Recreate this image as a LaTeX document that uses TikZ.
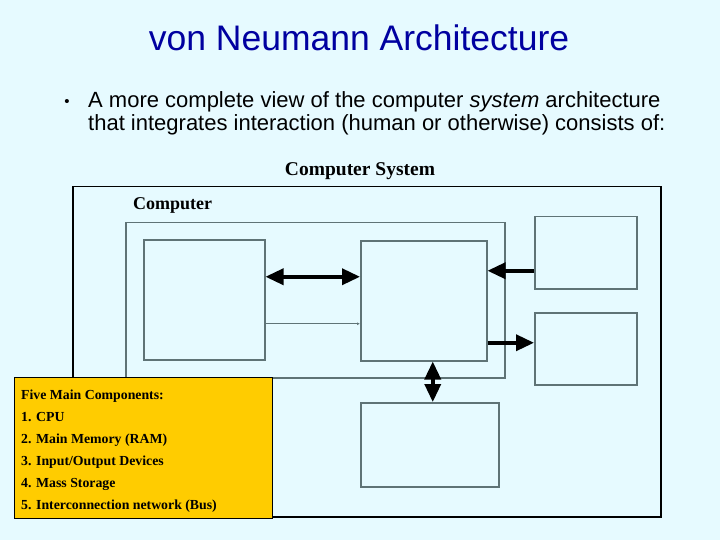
\documentclass[tikz,border=0pt]{standalone}
\usepackage{fontspec}
\setmainfont{Liberation Serif}
\setsansfont{Liberation Sans}
\usetikzlibrary{arrows.meta,positioning}

\definecolor{slidebg}{RGB}{230,250,255}
\definecolor{titleblue}{RGB}{0,0,160}
\definecolor{boxgray}{RGB}{95,115,118}
\definecolor{notegold}{RGB}{255,204,0}

\tikzset{
  unit/.style={draw=boxgray, line width=1.5pt, inner sep=0pt, anchor=north west},
  frame/.style={draw=black, line width=1.5pt, inner sep=0pt, anchor=north west},
  bus/.style={line width=3.5pt, -{Triangle[length=18pt,width=16pt]}},
  busboth/.style={line width=3.5pt, {Triangle[length=18pt,width=16pt]}-{Triangle[length=18pt,width=16pt]}},
  label/.style={font=\bfseries\fontsize{18}{20}\selectfont},
}

\begin{document}
\begin{tikzpicture}[x=1pt,y=1pt,yscale=-1,xscale=1]

\fill[slidebg] (0,0) rectangle (720,540);
\useasboundingbox (0,0) rectangle (720,540);

% heading
\node[font=\sffamily\fontsize{35.5}{40}\selectfont, text=titleblue] (title) at (359,38) {von Neumann Architecture};
\node[anchor=base, font=\sffamily\fontsize{15}{18}\selectfont] (dot) at (67,107) {\textbullet};
\node[anchor=base west, inner sep=0pt, font=\sffamily\fontsize{22}{24}\selectfont] (line1) at (88,108) {A more complete view of the computer \textit{system} architecture};
\node[anchor=base west, inner sep=0pt, font=\sffamily\fontsize{22}{24}\selectfont] (line2) at (88,131) {that integrates interaction (human or otherwise) consists of:};

% frames
\node[label, font=\bfseries\fontsize{19.5}{22}\selectfont] (systitle) at (360,171) {Computer System};
\node[frame, minimum width=588, minimum height=330] (system) at (72,186) {};
\node[label, anchor=west, inner sep=0pt] (comptitle) at (133,205) {Computer};
\node[unit, minimum width=379, minimum height=155] (computer) at (125,222) {};

% components
\node[unit, minimum width=121, minimum height=120] (mem) at (143,239) {};
\node[unit, minimum width=126, minimum height=120] (cpu) at (360,240) {};
\node[unit, minimum width=102, minimum height=72] (input) at (534,216) {};
\node[unit, minimum width=102, minimum height=72] (output) at (534,312) {};
\node[unit, minimum width=138, minimum height=84] (storage) at (360,402) {};

% connections
\draw[busboth] ([yshift=-23]mem.east) -- ([yshift=-24]cpu.west);
\draw[boxgray, line width=1pt, -{Latex[length=3pt,width=3pt]}] ([yshift=24]mem.east) -- ([yshift=23]cpu.west);
\draw[bus] ([yshift=18]input.west) -- ([yshift=-30]cpu.east);
\draw[bus] ([yshift=42]cpu.east) -- ([yshift=-6]output.west);
\draw[busboth] ([xshift=9]cpu.south) -- ([xshift=9]cpu.south |- storage.north);

% legend
\node[draw=black, fill=notegold, line width=1pt, inner sep=0pt, anchor=north west, minimum width=258, minimum height=141] (note) at (14,377) {};
\node[anchor=north west, inner sep=0pt, align=left, font=\bfseries\fontsize{13.8}{22}\selectfont] (notetext) at (21,390) {Five Main Components:\\
1. CPU\\
2. Main Memory (RAM)\\
3. Input/Output Devices\\
4. Mass Storage\\
5. Interconnection network (Bus)};

\end{tikzpicture}
\end{document}
